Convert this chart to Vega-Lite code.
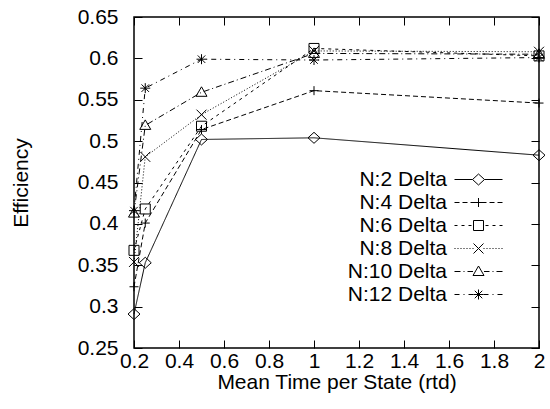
{
  "$schema": "https://vega.github.io/schema/vega-lite/v6.json",
  "width": 405,
  "height": 331,
  "autosize": "none",
  "padding": {"left": 134, "top": 17, "right": 11, "bottom": 61},
  "background": "white",
  "config": {
    "view": {"stroke": "black", "strokeWidth": 1.5},
    "font": "Liberation Sans",
    "axis": {"grid": false, "domain": false, "tickColor": "black", "tickWidth": 1, "tickSize": -8, "labelColor": "black", "labelFont": "Liberation Sans", "labelFontSize": 21, "titleFont": "Liberation Sans", "titleFontSize": 21, "titleFontWeight": "normal", "titleColor": "black", "labelFlush": false, "labelOverlap": false}
  },
  "data": {"values": [
    {"series": "N:2 Delta", "t": 0.2, "eff": 0.291},
    {"series": "N:2 Delta", "t": 0.25, "eff": 0.353},
    {"series": "N:2 Delta", "t": 0.5, "eff": 0.502},
    {"series": "N:2 Delta", "t": 1, "eff": 0.504},
    {"series": "N:2 Delta", "t": 2, "eff": 0.483},
    {"series": "N:4 Delta", "t": 0.2, "eff": 0.324},
    {"series": "N:4 Delta", "t": 0.25, "eff": 0.401},
    {"series": "N:4 Delta", "t": 0.5, "eff": 0.514},
    {"series": "N:4 Delta", "t": 1, "eff": 0.561},
    {"series": "N:4 Delta", "t": 2, "eff": 0.546},
    {"series": "N:6 Delta", "t": 0.2, "eff": 0.368},
    {"series": "N:6 Delta", "t": 0.25, "eff": 0.418},
    {"series": "N:6 Delta", "t": 0.5, "eff": 0.518},
    {"series": "N:6 Delta", "t": 1, "eff": 0.612},
    {"series": "N:6 Delta", "t": 2, "eff": 0.603},
    {"series": "N:8 Delta", "t": 0.2, "eff": 0.354},
    {"series": "N:8 Delta", "t": 0.25, "eff": 0.481},
    {"series": "N:8 Delta", "t": 0.5, "eff": 0.532},
    {"series": "N:8 Delta", "t": 1, "eff": 0.609},
    {"series": "N:8 Delta", "t": 2, "eff": 0.608},
    {"series": "N:10 Delta", "t": 0.2, "eff": 0.413},
    {"series": "N:10 Delta", "t": 0.25, "eff": 0.519},
    {"series": "N:10 Delta", "t": 0.5, "eff": 0.559},
    {"series": "N:10 Delta", "t": 1, "eff": 0.606},
    {"series": "N:10 Delta", "t": 2, "eff": 0.605},
    {"series": "N:12 Delta", "t": 0.2, "eff": 0.416},
    {"series": "N:12 Delta", "t": 0.25, "eff": 0.564},
    {"series": "N:12 Delta", "t": 0.5, "eff": 0.599},
    {"series": "N:12 Delta", "t": 1, "eff": 0.598},
    {"series": "N:12 Delta", "t": 2, "eff": 0.601}
  ]},
  "resolve": {"scale": {"shape": "independent"}, "legend": {"shape": "independent"}, "axis": {"x": "independent", "y": "independent"}},
  "layer": [
    {
      "mark": {"type": "line", "color": "black", "strokeWidth": 1},
      "encoding": {
        "x": {"field": "t", "type": "quantitative", "scale": {"domain": [0.2, 2], "nice": false, "zero": false},
              "axis": {"orient": "bottom", "values": [0.2,0.4,0.6,0.8,1,1.2,1.4,1.6,1.8,2], "format": ".1~f", "labelPadding": 10, "title": "Mean Time per State (rtd)", "titlePadding": 0}},
        "y": {"field": "eff", "type": "quantitative", "scale": {"domain": [0.25, 0.65], "nice": false, "zero": false},
              "axis": {"orient": "left", "values": [0.25,0.3,0.35,0.4,0.45,0.5,0.55,0.6,0.65], "format": ".2~f", "labelPadding": 24, "title": "Efficiency", "titlePadding": 46}},
        "detail": {"field": "series"},
        "strokeDash": {"field": "series", "type": "nominal", "legend": null,
          "scale": {"domain": ["N:2 Delta","N:4 Delta","N:6 Delta","N:8 Delta","N:10 Delta","N:12 Delta"],
                    "range": [[1,0],[5,3],[3,4],[1,2],[6,3,1,3],[5,4,1,4]]}}
      }
    },
    {
      "mark": {"type": "point", "color": "black", "filled": false, "strokeWidth": 1, "size": 100, "opacity": 1},
      "encoding": {
        "x": {"field": "t", "type": "quantitative", "axis": {"orient": "top", "values": [0.2,0.4,0.6,0.8,1,1.2,1.4,1.6,1.8,2], "labels": false, "title": null}},
        "y": {"field": "eff", "type": "quantitative", "axis": {"orient": "right", "values": [0.25,0.3,0.35,0.4,0.45,0.5,0.55,0.6,0.65], "labels": false, "title": null}},
        "shape": {"field": "series", "type": "nominal", "legend": null,
          "scale": {"domain": ["N:2 Delta","N:4 Delta","N:6 Delta","N:8 Delta","N:10 Delta","N:12 Delta"],
                    "range": [
                      "M-1.2,0L0,-1.1L1.2,0L0,1.1Z",
                      "M-0.9,0H0.9M0,-0.9V0.9",
                      "M-1,-1H1V1H-1Z",
                      "M-1,-1L1,1M-1,1L1,-1",
                      "M-1.1,0.8L0,-1.1L1.1,0.8Z",
                      "M-1,0H1M0,-1V1M-0.75,-0.75L0.75,0.75M-0.75,0.75L0.75,-0.75"
                    ]}}
      }
    },
    {
      "transform": [{"filter": "false"}],
      "mark": {"type": "point", "color": "black", "filled": false, "strokeWidth": 1, "size": 100, "opacity": 1},
      "encoding": {
        "shape": {"field": "series", "type": "nominal",
          "scale": {"domain": ["N:2 Delta","N:4 Delta","N:6 Delta","N:8 Delta","N:10 Delta","N:12 Delta"],
                    "range": [
                      "M-4.8,0H-1.2M1.2,0H4.8M-1.2,0L0,-1.1L1.2,0L0,1.1Z",
                      "M-4.8,0H-3.8M-3.2,0H-2.2M-1.6,0H1.6M2.2,0H3.2M3.8,0H4.8M0,-0.9V0.9",
                      "M-4.8,0H-4.2M-3.4,0H-2.8M-2,0H-1.4M1.4,0H2M2.8,0H3.4M4.2,0H4.8M-1,-1H1V1H-1Z",
                      "M-4.8,0H-4.6M-4.2,0H-4M-3.6,0H-3.4M-3,0H-2.8M-2.4,0H-2.2M-1.8,0H-1.6M-1.2,0H-1M1,0H1.2M1.6,0H1.8M2.2,0H2.4M2.8,0H3M3.4,0H3.6M4,0H4.2M4.6,0H4.8M-1,-1L1,1M-1,1L1,-1",
                      "M-4.8,0H-3.6M-3,0H-2.8M-2.2,0H-1.1M1.1,0H2.2M2.8,0H3M3.6,0H4.8M-1.1,0.8L0,-1.1L1.1,0.8Z",
                      "M-4.8,0H-3.8M-3,0H-2.8M-2,0H-1M1,0H2M2.8,0H3M3.8,0H4.8M-1,0H1M0,-1V1M-0.75,-0.75L0.75,0.75M-0.75,0.75L0.75,-0.75"
                    ]},
          "legend": {"title": null, "orient": "none", "legendX": 334, "legendY": 152, "symbolSize": 100, "symbolStrokeWidth": 1, "symbolStrokeColor": "black", "symbolFillColor": "transparent", "labelFont": "Liberation Sans", "labelFontSize": 21, "labelColor": "black", "labelAlign": "right", "labelOffset": -42, "rowPadding": 1, "labelLimit": 300}}
      }
    }
  ]
}
